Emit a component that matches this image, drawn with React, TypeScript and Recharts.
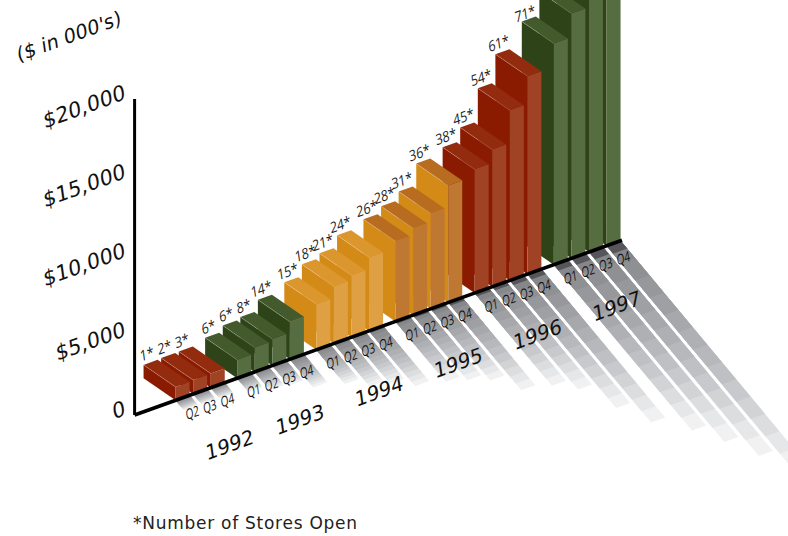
import React from "react";
import { BarChart, Bar, XAxis, YAxis, ReferenceLine } from "recharts";

// sales in $000's and stores open, one array per year
const years = [1992, 1993, 1994, 1995, 1996, 1997];
const quarters1992 = ["Q2", "Q3", "Q4"];
const quarters = ["Q1", "Q2", "Q3", "Q4"];

const sales1992 = [850, 880, 900];
const sales1993 = [1170, 1540, 1680, 2370];
const sales1994 = [2890, 3620, 3920, 4660];
const sales1995 = [5080, 5500, 6040, 7400];
const sales1996 = [7830, 8680, 10770, 12530];
const sales1997 = [14000, 15500, 17200, 19000];

const stores1992 = [1, 2, 3];
const stores1993 = [6, 6, 8, 14];
const stores1994 = [15, 18, 21, 24];
const stores1995 = [26, 28, 31, 36];
const stores1996 = [38, 45, 54, 61];
// only 1997 Q1 fits on the page
const stores1997 = [71];

const yearSales = [sales1992, sales1993, sales1994, sales1995, sales1996, sales1997];
const yearStores = [stores1992, stores1993, stores1994, stores1995, stores1996, stores1997];

const yTicks = [0, 5000, 10000, 15000, 20000];

type Row = {
  key: string;
  year: number;
  quarter?: string;
  sales?: number;
  stores?: number;
  yearLabel?: boolean;
};

// a quarter takes two rows and a year break one more, which leaves the wider gap between years
const buildRows = () => {
  const rows: Row[] = [];
  years.forEach((year, y) => {
    const names = y === 0 ? quarters1992 : quarters;
    const middle = (names.length - 1) / 2;
    names.forEach((quarter, q) => {
      rows.push({
        key: `${year} ${quarter}`,
        year,
        quarter,
        sales: yearSales[y][q],
        stores: yearStores[y][q],
        yearLabel: q === middle,
      });
      if (q < names.length - 1) {
        rows.push({ key: `${year} ${quarter} gap`, year, yearLabel: q + 0.5 === middle });
      }
    });
    if (y < years.length - 1) {
      rows.push({ key: `${year} end a`, year });
      rows.push({ key: `${year} end b`, year });
    }
  });
  return rows;
};

const rows = buildRows();
const rowsByKey = new Map(rows.map((r) => [r.key, r]));
// drawn right to left, so nearer bars cover the ones behind them
const drawRows = [...rows].reverse();

const ORIGIN_X = 134.6;
const SLOPE = 0.3586;
const BAR_WIDTH = 14;
const DEPTH_X = -32;
const DEPTH_Y = -22;
const SHADOW_X = 0.625;
const SHADOW_Y = 0.75;
const LABEL_MIN_Y = 19;

const shadowSteps = [
  "#f1f1f2", "#e6e7e9", "#dcdddf", "#d2d3d5", "#c8c9cc", "#bfc0c3", "#b7b8bb",
  "#afb0b3", "#a7a8ab", "#9fa0a3", "#97989b", "#8f9093", "#86878a",
];
const shadowEdge = "#55555a";

const redBar = { front: "#8b1b00", top: "#932b0e", side: "#a04325" };
const greenBar = { front: "#2f4318", top: "#425a2c", side: "#566d41" };
const lightOrange = { front: "#d38a17", top: "#dc962e", side: "#dea042" };
const darkOrange = { front: "#d38a17", top: "#b86c20", side: "#be7832" };
const yearColors: Record<number, typeof redBar> = {
  1992: redBar,
  1993: greenBar,
  1994: lightOrange,
  1995: darkOrange,
  1996: redBar,
  1997: greenBar,
};

const wideFont = "'DejaVu Sans'";
const thinFont = "'Open Sans'";

const slant = (x: number, y: number) => y - SLOPE * (x - ORIGIN_X);
const pts = (list: number[][]) => list.map((p) => p.join(",")).join(" ");
// labels run along the floor line and lean forward; the small ones are also condensed
const leaning = (x: number, y: number, squeeze = 1) =>
  `translate(${x} ${y}) rotate(-20) skewX(-12) scale(${squeeze} 1)`;

const Bar3D = (props: any) => {
  const { x: bandX, y, width: bandWidth, height, payload } = props;
  if (payload.sales == null) return null;

  // the band is narrower than the bar, so the faces are centred on it
  const x = bandX + bandWidth / 2 - BAR_WIDTH / 2;
  const right = x + BAR_WIDTH;
  const baseL = slant(x, y + height);
  const baseR = slant(right, y + height);
  const topL = slant(x, y);
  const topR = slant(right, y);
  const colors = yearColors[payload.year];
  const shadowDx = height * SHADOW_X;
  const shadowDy = height * SHADOW_Y;
  const backX = x + DEPTH_X;
  const backY = topL + DEPTH_Y;

  const shadowPart = (t: number, fill: string) => (
    <polygon
      key={fill}
      fill={fill}
      points={pts([
        [x, baseL],
        [right, baseR],
        [right + shadowDx * t, baseR + shadowDy * t],
        [x + shadowDx * t, baseL + shadowDy * t],
      ])}
    />
  );

  return (
    <g>
      {shadowSteps.map((fill, i) => shadowPart(1 - i / shadowSteps.length, fill))}
      {shadowPart(0.035, shadowEdge)}
      <polygon
        fill={colors.front}
        points={pts([
          [x, baseL],
          [x, topL],
          [backX, backY],
          [backX, backY + height],
        ])}
      />
      <polygon
        fill={colors.side}
        points={pts([
          [x, baseL],
          [right, baseR],
          [right, topR],
          [x, topL],
        ])}
      />
      <polygon
        fill={colors.top}
        points={pts([
          [x, topL],
          [right, topR],
          [right + DEPTH_X, topR + DEPTH_Y],
          [backX, backY],
        ])}
      />
      <line x1={x} y1={topL} x2={backX} y2={backY} stroke="#ffffff" strokeOpacity={0.3} strokeWidth={0.7} />
      {payload.stores != null && (
        <text
          textAnchor="middle"
          fontFamily={thinFont}
          fontSize={14.5}
          fill="#222"
          transform={leaning(backX + 4, Math.max(backY - 5.5, LABEL_MIN_Y), 0.88)}
        >
          {payload.stores}*
        </text>
      )}
    </g>
  );
};

const QuarterTick = (props: any) => {
  const { x, payload } = props;
  const row = rowsByKey.get(payload.value);
  if (!row) return null;
  const base = slant(x, 415);
  return (
    <g>
      {row.quarter && (
        <text
          textAnchor="middle"
          fontFamily={thinFont}
          fontSize={14}
          fill="#111"
          transform={leaning(x + 10, base + 20, 0.74)}
        >
          {row.quarter}
        </text>
      )}
      {row.yearLabel && (
        <text
          textAnchor="middle"
          fontFamily={wideFont}
          fontSize={20}
          fill="#111"
          transform={leaning(x + 30, base + 60.5)}
        >
          {row.year}
        </text>
      )}
    </g>
  );
};

const DollarTick = (props: any) => {
  const { y, payload } = props;
  const label = payload.value === 0 ? "0" : `$${payload.value.toLocaleString("en-US")}`;
  return (
    <text textAnchor="end" fontFamily={wideFont} fontSize={21} fill="#111" transform={leaning(126, y)}>
      {label}
    </text>
  );
};

const FloorLine = (props: any) => {
  const { x1, x2, y1, y2 } = props;
  const left = Math.min(x1, x2);
  const right = Math.max(x1, x2);
  return (
    <line
      x1={left}
      y1={slant(left, y1)}
      x2={right}
      y2={slant(right, y2)}
      stroke="#000"
      strokeWidth={3.6}
    />
  );
};

const App = () => {
  return (
    <div style={{ position: "absolute", left: 0, top: 0, width: 788, height: 536, overflow: "hidden" }}>
      <BarChart
        width={788}
        height={536}
        data={drawRows}
        barSize={14}
        margin={{ top: 99, right: 166, bottom: 120, left: ORIGIN_X - 1 }}
      >
        <YAxis
          width={1}
          domain={[0, 20000]}
          ticks={yTicks}
          interval={0}
          tickLine={false}
          axisLine={{ stroke: "#000", strokeWidth: 3 }}
          tick={<DollarTick />}
        />
        <Bar dataKey="sales" isAnimationActive={false} shape={<Bar3D />} />
        <XAxis
          dataKey="key"
          reversed
          height={1}
          interval={0}
          axisLine={false}
          tickLine={false}
          padding={{ left: 44, right: 3.6 }}
          tick={<QuarterTick />}
        />
        <ReferenceLine y={0} shape={<FloorLine />} />
        <text fontFamily={wideFont} fontSize={19.5} fill="#111" transform={leaning(18, 62)}>
          ($ in 000's)
        </text>
        <text x={133} y={529} fontFamily={wideFont} fontSize={17} fill="#222" textLength={224} lengthAdjust="spacing">
          *Number of Stores Open
        </text>
      </BarChart>
    </div>
  );
};

export default App;
